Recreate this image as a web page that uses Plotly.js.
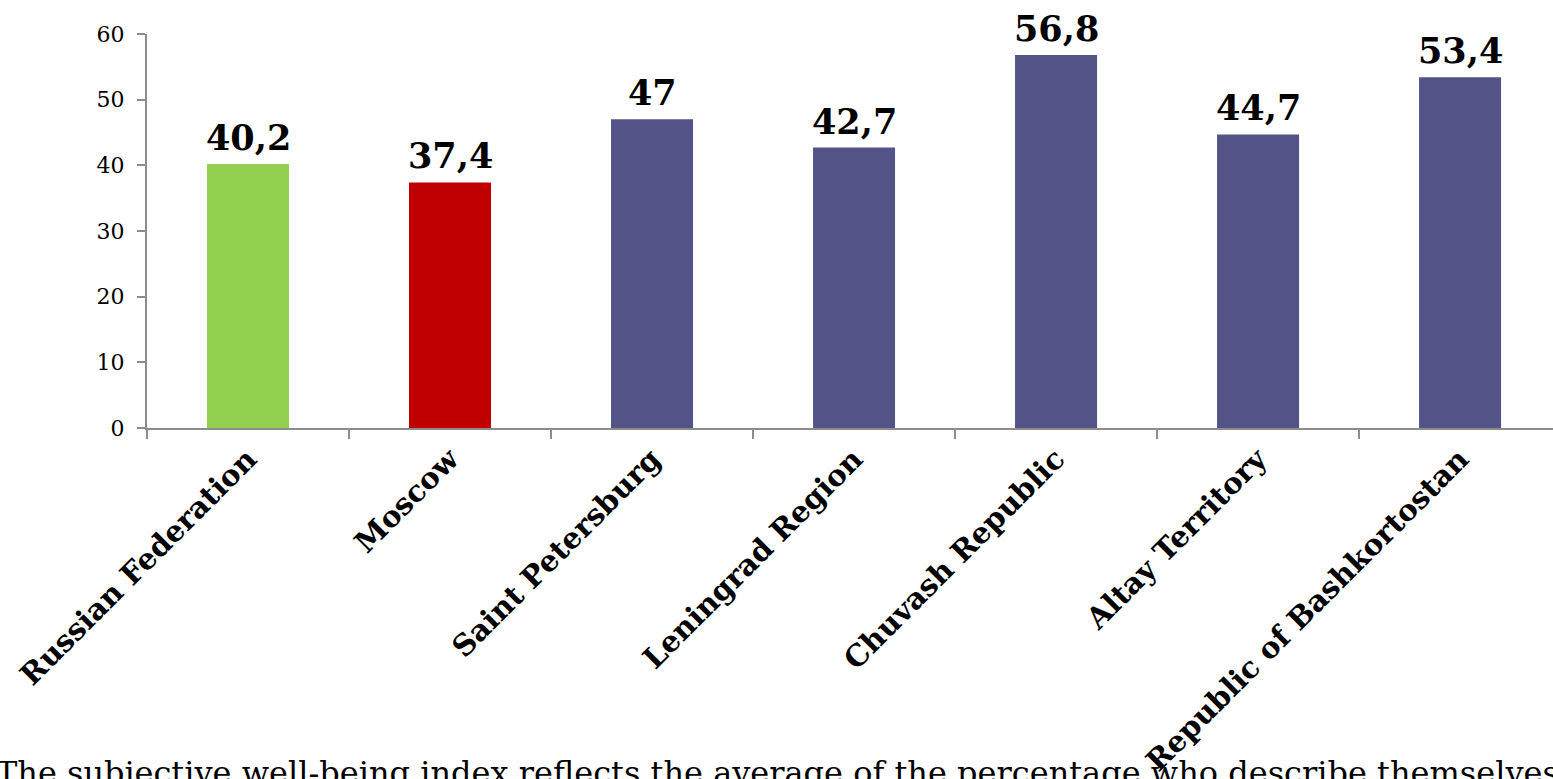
<!DOCTYPE html>
<html>
<head>
<meta charset="utf-8">
<script src="https://cdn.plot.ly/plotly-3.0.1.min.js"></script>
<style>
  html, body { margin: 0; padding: 0; overflow: hidden; background: #fff; }
  #chart { width: 1553px; height: 779px; }
</style>
</head>
<body>
<div id="chart"></div>
<script>
// Subjective well-being index by region
const regions = [
  "Russian Federation",
  "Moscow",
  "Saint Petersburg",
  "Leningrad Region",
  "Chuvash Republic",
  "Altay Territory",
  "Republic of Bashkortostan"
];
const indexValues = [40.2, 37.4, 47, 42.7, 56.8, 44.7, 53.4];
const barColors = ["#92D050", "#C00000", "#535388", "#535388", "#535388", "#535388", "#535388"];
const yTicks = [0, 10, 20, 30, 40, 50, 60];
const footnote = "The subjective well-being index reflects the average of the percentage who describe themselves";

const serif = "DejaVu Serif, Georgia, serif";
const axisGray = "#8c8c8c";

// Values are labelled with a decimal comma
const labels = indexValues.map(v => String(v).replace(".", ","));

const trace = {
  type: "bar",
  x: regions,
  y: indexValues,
  marker: { color: barColors },
  hoverinfo: "x+y"
};

// Value labels above each bar
const valueNotes = regions.map((r, i) => ({
  x: r,
  y: indexValues[i],
  xref: "x",
  yref: "y",
  text: labels[i],
  showarrow: false,
  xanchor: "center",
  yanchor: "bottom",
  yshift: 4,
  font: { family: serif, size: 35, color: "#000", weight: "bold" }
}));

const layout = {
  width: 1553,
  height: 779,
  margin: { l: 147, r: 0, t: 34, b: 351 },
  paper_bgcolor: "#fff",
  plot_bgcolor: "#fff",
  showlegend: false,
  bargap: 0.594,
  xaxis: {
    type: "category",
    range: [-0.5, 6.46],
    showline: true,
    linecolor: axisGray,
    linewidth: 2,
    ticks: "outside",
    tickson: "boundaries",
    ticklen: 9,
    tickwidth: 2,
    tickcolor: axisGray,
    tickangle: -45,
    tickfont: { family: serif, size: 29.5, color: "#000", weight: "bold" },
    showgrid: false,
    zeroline: false
  },
  yaxis: {
    range: [0, 60],
    tickvals: yTicks,
    showline: true,
    linecolor: axisGray,
    linewidth: 2,
    ticks: "outside",
    ticklen: 8,
    tickwidth: 2,
    tickcolor: axisGray,
    tickfont: { family: serif, size: 22, color: "#000" },
    ticklabelstandoff: 8,
    showgrid: false,
    zeroline: false
  },
  annotations: valueNotes.concat([{
    text: footnote,
    xref: "paper",
    yref: "paper",
    x: -147 / 1406 - 0.004,
    xanchor: "left",
    y: (428 - 752) / 394,
    yanchor: "top",
    showarrow: false,
    font: { family: serif, size: 32, color: "#000" }
  }])
};

Plotly.newPlot("chart", [trace], layout, { displayModeBar: false, responsive: false });
</script>
</body>
</html>
